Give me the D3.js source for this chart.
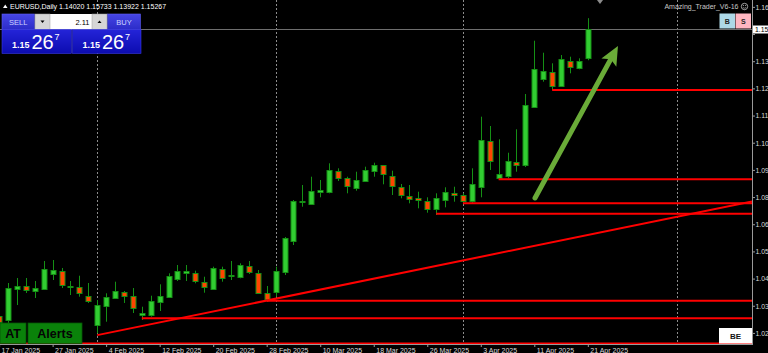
<!DOCTYPE html>
<html>
<head>
<meta charset="utf-8">
<title>EURUSD,Daily</title>
<script src="https://cdn.jsdelivr.net/npm/d3@7"></script>
<style>
    body { margin: 0; background: #000; overflow: hidden; }
    svg { display: block; font-family: "Liberation Sans", Arial, sans-serif; }
</style>
</head>
<body>
<div id="chart"></div>
<script>
    // daily bars, 17 Jan 2025 .. 21 Apr 2025
    var dates = ["17 Jan 2025", "20 Jan 2025", "21 Jan 2025", "22 Jan 2025", "23 Jan 2025", "24 Jan 2025", "27 Jan 2025", "28 Jan 2025", "29 Jan 2025", "30 Jan 2025", "31 Jan 2025",
        "3 Feb 2025", "4 Feb 2025", "5 Feb 2025", "6 Feb 2025", "7 Feb 2025", "10 Feb 2025", "11 Feb 2025", "12 Feb 2025", "13 Feb 2025", "14 Feb 2025", "17 Feb 2025", "18 Feb 2025", "19 Feb 2025", "20 Feb 2025", "21 Feb 2025", "24 Feb 2025", "25 Feb 2025", "26 Feb 2025", "27 Feb 2025", "28 Feb 2025",
        "3 Mar 2025", "4 Mar 2025", "5 Mar 2025", "6 Mar 2025", "7 Mar 2025", "10 Mar 2025", "11 Mar 2025", "12 Mar 2025", "13 Mar 2025", "14 Mar 2025", "17 Mar 2025", "18 Mar 2025", "19 Mar 2025", "20 Mar 2025", "21 Mar 2025", "24 Mar 2025", "25 Mar 2025", "26 Mar 2025", "27 Mar 2025", "28 Mar 2025", "31 Mar 2025",
        "1 Apr 2025", "2 Apr 2025", "3 Apr 2025", "4 Apr 2025", "7 Apr 2025", "8 Apr 2025", "9 Apr 2025", "10 Apr 2025", "11 Apr 2025", "14 Apr 2025", "15 Apr 2025", "16 Apr 2025", "17 Apr 2025", "18 Apr 2025", "21 Apr 2025"];

    var opens = [1.02909, 1.02736, 1.04084, 1.04201, 1.04015, 1.04058, 1.04717, 1.04846, 1.04158, 1.04145, 1.03783,
        1.02521, 1.03352, 1.03697, 1.03955, 1.03770, 1.02939, 1.02982, 1.03525, 1.03727, 1.04532, 1.04773, 1.04747, 1.04386, 1.04101, 1.04920, 1.04618, 1.04575, 1.05062, 1.04773, 1.03912,
        1.03929, 1.04773, 1.06151, 1.07787, 1.07762, 1.08261, 1.08261, 1.09152, 1.08838, 1.08433, 1.08735, 1.09152, 1.09398, 1.08950, 1.08451, 1.08089, 1.07977, 1.07861, 1.07503, 1.07934, 1.08192,
        1.08119, 1.07861, 1.08451, 1.10444, 1.08838, 1.08950, 1.09553, 1.09411, 1.11895, 1.13144, 1.13428, 1.12782, 1.13889, 1.13601, 1.14020];
    var highs = [1.03038, 1.04330, 1.04545, 1.04545, 1.04416, 1.05277, 1.05320, 1.04976, 1.04416, 1.04644, 1.04330,
        1.03598, 1.03886, 1.04386, 1.03985, 1.04114, 1.03309, 1.03783, 1.04274, 1.04747, 1.05105, 1.05105, 1.04859, 1.04601, 1.05032, 1.05032, 1.05277, 1.05178, 1.05277, 1.04889, 1.04201,
        1.05032, 1.06310, 1.07904, 1.08550, 1.08907, 1.08765, 1.09484, 1.09269, 1.08907, 1.09122, 1.09338, 1.09510, 1.09411, 1.09165, 1.08593, 1.08550, 1.08261, 1.08020, 1.08192, 1.08451, 1.08476,
        1.08192, 1.09269, 1.11491, 1.11090, 1.10517, 1.09940, 1.10948, 1.12468, 1.14763, 1.14246, 1.13790, 1.14147, 1.14074, 1.14005, 1.15733];
    var lows = [1.02521, 1.02607, 1.03382, 1.03899, 1.03684, 1.04028, 1.04459, 1.04114, 1.03813, 1.03740, 1.03469,
        1.02164, 1.02663, 1.03684, 1.03469, 1.03038, 1.02736, 1.02879, 1.03124, 1.03727, 1.04416, 1.04416, 1.04317, 1.03912, 1.04058, 1.04386, 1.04459, 1.04532, 1.04717, 1.03886, 1.03525,
        1.03740, 1.04674, 1.05966, 1.07615, 1.07731, 1.08020, 1.08192, 1.08722, 1.08192, 1.08304, 1.08692, 1.08907, 1.08580, 1.08119, 1.07977, 1.07762, 1.07546, 1.07357, 1.07258, 1.07589, 1.07830,
        1.07762, 1.07762, 1.08020, 1.09196, 1.08765, 1.08838, 1.09122, 1.09325, 1.11865, 1.12998, 1.12640, 1.12782, 1.13359, 1.13532, 1.13922];
    var closes = [1.02650, 1.04127, 1.04201, 1.04041, 1.04127, 1.04920, 1.04889, 1.04244, 1.04214, 1.03886, 1.03555,
        1.03382, 1.03740, 1.03985, 1.03783, 1.03240, 1.03025, 1.03568, 1.03783, 1.04631, 1.04859, 1.04846, 1.04386, 1.04170, 1.04988, 1.04532, 1.04674, 1.05105, 1.04803, 1.03912, 1.03671,
        1.04846, 1.06255, 1.07874, 1.07848, 1.08304, 1.08334, 1.09196, 1.08838, 1.08476, 1.08765, 1.09196, 1.09411, 1.09010, 1.08507, 1.08089, 1.07977, 1.07874, 1.07503, 1.07977, 1.08261, 1.08119,
        1.07874, 1.08580, 1.10487, 1.09596, 1.09010, 1.09583, 1.09441, 1.12007, 1.13532, 1.13471, 1.12813, 1.13962, 1.13618, 1.13889, 1.15267];

    var dateTickBars = [0, 6, 12, 18, 24, 30, 36, 42, 48, 54, 60, 66];
    var priceTicks = [1.0218, 1.0335, 1.0452, 1.0569, 1.0686, 1.0803, 1.0920, 1.1037, 1.1154, 1.1271, 1.1388, 1.1505, 1.1622];
    var separatorBars = [11, 31, 52, 76];

    // horizontal rays (price, starting bar)
    var hLinePrices = [1.12640, 1.08795, 1.07762, 1.07314, 1.03568, 1.02810, 1.01725];
    var hLineStartBars = [62, 56, 52, 49, 30, 16, -5];
    // trend line anchors
    var trendBars = [11, 66];
    var trendPrices = [1.02086, 1.06399];
    // green arrow (from, to)
    var arrowBars = [60.08, 69.38];
    var arrowPrices = [1.07990, 1.14535];

    var symbol = "EURUSD,Daily";
    var lotSize = "2.11";

    var W = 768, H = 353;
    var plotRight = 752, plotBottom = 344;
    var barStep = 8.92, firstBarX = -0.9;
    var pricePerPx = 0.0004306, priceAtTop = 1.16516;

    var x = d3.scaleLinear().domain([0, 1]).range([firstBarX, firstBarX + barStep]);
    var y = d3.scaleLinear().domain([priceAtTop, priceAtTop - pricePerPx * H]).range([0, H]);

    // the price scale is cut by the window edge: only the first four characters show
    function shortPrice(v) { return (Math.floor(v * 100 + 1e-6) / 100).toFixed(2); }

    var svg = d3.select("#chart").append("svg")
        .attr("width", W)
        .attr("height", H);
    svg.append("rect").attr("width", W).attr("height", H).attr("fill", "#000");

    var defs = svg.append("defs");
    defs.append("clipPath").attr("id", "plotclip")
        .append("rect").attr("width", plotRight).attr("height", plotBottom);

    function grad(id, top, bottom) {
        var g = defs.append("linearGradient").attr("id", id)
            .attr("x1", "0%").attr("y1", "0%").attr("x2", "0%").attr("y2", "100%");
        g.append("stop").attr("offset", "0%").attr("stop-color", top);
        g.append("stop").attr("offset", "100%").attr("stop-color", bottom);
    }
    grad("btnBlue", "#4646e6", "#2c2cc8");
    grad("boxBlue", "#2424d8", "#0c0cb0");

    var plot = svg.append("g").attr("clip-path", "url(#plotclip)");

    function px(v) { return Math.round(v) + 0.5; }

    // period separators
    plot.selectAll("line.sep").data(separatorBars).join("line")
        .attr("class", "sep")
        .attr("x1", function (d) { return px(x(d)); })
        .attr("x2", function (d) { return px(x(d)); })
        .attr("y1", 0).attr("y2", plotBottom)
        .attr("stroke", "#8c8c8c").attr("stroke-dasharray", "2,2");

    // bid line
    var last = closes.length - 1;
    var bid = closes[last];
    plot.append("line")
        .attr("x1", 0).attr("x2", plotRight)
        .attr("y1", px(y(bid))).attr("y2", px(y(bid)))
        .attr("stroke", "#6e6e6e");

    // candles
    var bars = d3.range(closes.length);
    var candles = plot.selectAll("g.candle").data(bars).join("g").attr("class", "candle");
    candles.append("line")
        .attr("x1", function (i) { return px(x(i)); })
        .attr("x2", function (i) { return px(x(i)); })
        .attr("y1", function (i) { return y(highs[i]); })
        .attr("y2", function (i) { return y(lows[i]); })
        .attr("stroke", "#159015");
    candles.append("rect")
        .attr("x", function (i) { return px(x(i)) - 2.5; })
        .attr("width", 5)
        .attr("y", function (i) { return Math.round(y(Math.max(opens[i], closes[i]))) + 0.5; })
        .attr("height", function (i) { return Math.max(1, Math.round(Math.abs(y(opens[i]) - y(closes[i])))); })
        .attr("fill", function (i) { return closes[i] >= opens[i] ? "#32cd32" : "#ff4500"; })
        .attr("stroke", "#159015");

    // horizontal rays
    plot.selectAll("line.hray").data(hLinePrices).join("line")
        .attr("class", "hray")
        .attr("x1", function (d, i) { return x(hLineStartBars[i]); })
        .attr("x2", plotRight)
        .attr("y1", function (d) { return y(d); })
        .attr("y2", function (d) { return y(d); })
        .attr("stroke", "#ff0000").attr("stroke-width", 2);

    // trend line, extended to the right edge
    var slope = (trendPrices[1] - trendPrices[0]) / (trendBars[1] - trendBars[0]);
    var edgeBar = x.invert(plotRight);
    plot.append("line")
        .attr("x1", x(trendBars[0])).attr("y1", y(trendPrices[0]))
        .attr("x2", x(edgeBar)).attr("y2", y(trendPrices[0] + slope * (edgeBar - trendBars[0])))
        .attr("stroke", "#ff0000").attr("stroke-width", 2);

    // arrow
    var ax0 = x(arrowBars[0]), ay0 = y(arrowPrices[0]);
    var ax1 = x(arrowBars[1]), ay1 = y(arrowPrices[1]);
    var len = Math.hypot(ax1 - ax0, ay1 - ay0);
    var ux = (ax1 - ax0) / len, uy = (ay1 - ay0) / len;
    var headLen = 19, headHalf = 8.5, notch = 4;
    var arrowColor = "#6aab38";
    plot.append("line")
        .attr("x1", ax0).attr("y1", ay0)
        .attr("x2", ax1 - ux * (headLen - 4)).attr("y2", ay1 - uy * (headLen - 4))
        .attr("stroke", arrowColor).attr("stroke-width", 5).attr("stroke-linecap", "round");
    var bx = ax1 - ux * headLen, by = ay1 - uy * headLen;
    plot.append("polygon")
        .attr("points", [[ax1, ay1], [bx - uy * headHalf, by + ux * headHalf],
            [bx + ux * notch, by + uy * notch], [bx + uy * headHalf, by - ux * headHalf]].join(" "))
        .attr("fill", arrowColor);

    // price axis
    var yAxis = svg.append("g")
        .attr("transform", "translate(" + plotRight + ",0)")
        .call(d3.axisRight(y).tickValues(priceTicks).tickFormat(shortPrice).tickSize(3).tickSizeOuter(0));
    yAxis.select(".domain").remove();
    yAxis.selectAll(".tick line").attr("stroke", "#9a9a9a");
    yAxis.selectAll(".tick text")
        .attr("x", 3.5).attr("dy", "0.34em")
        .attr("fill", "#dcdcdc")
        .style("font-family", "'Liberation Sans', Arial, sans-serif")
        .style("font-size", "6.8px");
    // the label under the bid tag is hidden
    yAxis.selectAll(".tick").filter(function (d) { return Math.abs(y(d) - y(bid)) < 6; })
        .select("text").remove();

    // time axis
    var xAxis = svg.append("g")
        .attr("transform", "translate(0," + plotBottom + ")")
        .call(d3.axisBottom(x).tickValues(dateTickBars).tickFormat(function (i) { return dates[i]; }).tickSize(3).tickSizeOuter(0));
    xAxis.select(".domain").remove();
    xAxis.selectAll(".tick line").attr("stroke", "#9a9a9a");
    xAxis.selectAll(".tick text")
        .attr("text-anchor", "start")
        .attr("x", 2).attr("y", 8.5).attr("dy", 0)
        .attr("fill", "#dcdcdc")
        .style("font-family", "'Liberation Sans', Arial, sans-serif")
        .style("font-size", "7px");

    // frame
    svg.append("line").attr("x1", plotRight + 0.5).attr("x2", plotRight + 0.5).attr("y1", 0).attr("y2", plotBottom + 1)
        .attr("stroke", "#9a9a9a");
    svg.append("line").attr("x1", 0).attr("x2", plotRight).attr("y1", plotBottom + 0.5).attr("y2", plotBottom + 0.5)
        .attr("stroke", "#9a9a9a");

    // bid tag
    svg.append("rect").attr("x", plotRight + 1).attr("y", Math.round(y(bid)) - 3.5).attr("width", 15).attr("height", 8)
        .attr("fill", "#ffffff");
    svg.append("text").attr("x", plotRight + 3).attr("y", y(bid) + 2.8)
        .attr("fill", "#000").style("font-size", "6.8px").text(shortPrice(bid));

    // chart shift marker
    svg.append("polygon").attr("points", "597,0 603,0 600,4").attr("fill", "#8c8c8c");

    // header
    svg.append("polygon").attr("points", "3,8 7.5,8 5.25,4.5").attr("fill", "#ffffff");
    svg.append("text").attr("x", 10).attr("y", 9)
        .attr("fill", "#ffffff").style("font-size", "7px")
        .text(symbol + "  " + opens[last].toFixed(5) + " " + highs[last].toFixed(5) + " " + lows[last].toFixed(5) + " " + closes[last].toFixed(5));

    // one click trading panel
    var panel = svg.append("g");
    var bidStr = bid.toFixed(5);
    var big = bidStr.slice(0, 4), pips = bidStr.slice(4, 6), point = bidStr.slice(6);
    [{ x: 2, w: 32.5, label: "SELL" }, { x: 107.5, w: 33, label: "BUY" }].forEach(function (b) {
        panel.append("rect").attr("x", b.x).attr("y", 14).attr("width", b.w).attr("height", 15.5)
            .attr("fill", "url(#btnBlue)").attr("stroke", "#5a5af0").attr("stroke-width", 0.6);
        panel.append("text").attr("x", b.x + b.w / 2).attr("y", 24.5).attr("text-anchor", "middle")
            .attr("fill", "#cdd4ff").style("font-size", "7.5px").text(b.label);
    });
    panel.append("rect").attr("x", 35).attr("y", 14).attr("width", 72).attr("height", 15.5).attr("fill", "#ffffff");
    panel.append("rect").attr("x", 35).attr("y", 14).attr("width", 15).attr("height", 15.5).attr("fill", "#d6d6d6").attr("stroke", "#a0a0a0").attr("stroke-width", 0.5);
    panel.append("rect").attr("x", 92).attr("y", 14).attr("width", 15).attr("height", 15.5).attr("fill", "#d6d6d6").attr("stroke", "#a0a0a0").attr("stroke-width", 0.5);
    panel.append("polygon").attr("points", "40.5,20.5 44.5,20.5 42.5,23").attr("fill", "#000");
    panel.append("polygon").attr("points", "97.5,23 101.5,23 99.5,20.5").attr("fill", "#000");
    panel.append("text").attr("x", 89.5).attr("y", 24.5).attr("text-anchor", "end")
        .attr("fill", "#000").style("font-size", "7.5px").text(lotSize);

    [2, 72.5].forEach(function (bx0, k) {
        panel.append("rect").attr("x", bx0).attr("y", 29.5).attr("width", k ? 68.5 : 69.5).attr("height", 24)
            .attr("fill", "url(#boxBlue)").attr("stroke", "#3a3ae0").attr("stroke-width", 0.6);
        panel.append("text").attr("x", bx0 + 10).attr("y", 47.5).attr("fill", "#ffffff")
            .style("font-size", "9px").style("font-weight", "bold").text(big);
        panel.append("text").attr("x", bx0 + 29.5).attr("y", 48.5).attr("fill", "#ffffff")
            .style("font-size", "20px").text(pips);
        panel.append("text").attr("x", bx0 + 52.5).attr("y", 39.5).attr("fill", "#ffffff")
            .style("font-size", "9px").text(point);
    });

    // expert label and B / S buttons
    svg.append("text").attr("x", 738.5).attr("y", 9).attr("text-anchor", "end")
        .attr("fill", "#c8c8c8").style("font-size", "7px").text("Amazing_Trader_V6-16");
    svg.append("circle").attr("cx", 744.5).attr("cy", 6.5).attr("r", 3.2)
        .attr("fill", "none").attr("stroke", "#c8c8c8").attr("stroke-width", 0.8);
    svg.append("path").attr("d", "M742.8,7.3 Q744.5,9.2 746.2,7.3").attr("fill", "none").attr("stroke", "#c8c8c8").attr("stroke-width", 0.6);
    [[743.4, 5.4], [745.6, 5.4]].forEach(function (e) {
        svg.append("circle").attr("cx", e[0]).attr("cy", e[1]).attr("r", 0.5).attr("fill", "#c8c8c8");
    });
    [{ x: 719.5, fill: "#add8e6", label: "B" }, { x: 735.5, fill: "#ffb6c1", label: "S" }].forEach(function (b) {
        svg.append("rect").attr("x", b.x).attr("y", 13.5).attr("width", 15.5).attr("height", 15)
            .attr("fill", b.fill);
        svg.append("text").attr("x", b.x + 7.75).attr("y", 23.5).attr("text-anchor", "middle")
            .attr("fill", "#222").style("font-size", "7px").style("font-weight", "bold").text(b.label);
    });

    // bottom buttons
    [{ x: 0, w: 26, label: "AT" }, { x: 28, w: 54, label: "Alerts" }].forEach(function (b) {
        svg.append("rect").attr("x", b.x).attr("y", 323).attr("width", b.w).attr("height", 20.5)
            .attr("fill", "#0a820a").attr("stroke", "#055505").attr("stroke-width", 0.8);
        svg.append("text").attr("x", b.x + b.w / 2).attr("y", 338.2).attr("text-anchor", "middle")
            .attr("fill", "#050505").style("font-size", "12.5px").style("font-weight", "bold").text(b.label);
    });
    svg.append("rect").attr("x", 719).attr("y", 328).attr("width", 33).attr("height", 15.5).attr("fill", "#ffffff");
    svg.append("text").attr("x", 735.5).attr("y", 339).attr("text-anchor", "middle")
        .attr("fill", "#111").style("font-size", "8px").style("font-weight", "bold").text("BE");
</script>
</body>
</html>
